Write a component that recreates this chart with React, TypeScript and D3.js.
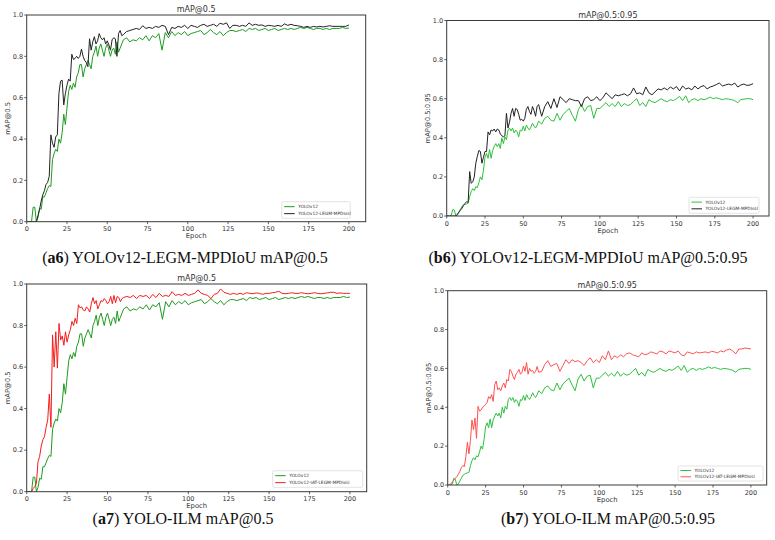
import React from "react";
import * as d3 from "d3";

const EPOCHS = [
  0, 1, 2, 3, 4, 5, 6, 7, 8, 9, 10, 11, 12, 13, 14, 15, 16, 17, 18, 19, 20, 21, 22, 23, 24, 25, 26, 27, 28, 29,
  30, 31, 32, 33, 34, 35, 36, 37, 38, 39, 40, 41, 42, 43, 44, 45, 46, 47, 48, 49, 50, 51, 52, 53, 54, 55, 56, 57, 58, 59, 60,
  62, 64, 66, 68, 70, 72, 74, 76, 78, 80, 82, 84, 86, 88, 90, 92, 94, 96, 98, 100,
  102, 104, 106, 108, 110, 112, 114, 116, 118, 120, 122, 124, 126, 128, 130, 132, 134, 136, 138, 140,
  142, 144, 146, 148, 150, 152, 154, 156, 158, 160, 162, 164, 166, 168, 170, 172, 174, 176, 178, 180,
  182, 184, 186, 188, 190, 192, 194, 196, 198, 200,
];

const X_TICKS = [0, 25, 50, 75, 100, 125, 150, 175, 200];
const Y_TICKS = [0, 0.2, 0.4, 0.6, 0.8, 1.0];

// YOLOv12 mAP@0.5
const GREEN_50 = [
  0, 0, 0,
  0.0, 0.07, 0.07, 0.0, 0.02, 0.065, 0.06, 0.12, 0.12, 0.14,
  0.16, 0.175, 0.17, 0.3, 0.33, 0.35, 0.34, 0.4, 0.38, 0.43,
  0.52, 0.47, 0.55, 0.63, 0.66, 0.64, 0.67, 0.65, 0.7, 0.72,
  0.76, 0.76, 0.7, 0.74, 0.76, 0.78, 0.76, 0.74, 0.8, 0.82,
  0.85, 0.8, 0.84, 0.86, 0.83, 0.8, 0.84, 0.86, 0.83, 0.8,
  0.83, 0.84, 0.81, 0.87, 0.82, 0.84, 0.86, 0.88,
  0.89, 0.87, 0.88, 0.875, 0.89, 0.88, 0.9, 0.875, 0.9, 0.89,
  0.91, 0.83, 0.915, 0.89, 0.92, 0.9, 0.915, 0.905, 0.92, 0.9,
  0.91, 0.915, 0.92, 0.925, 0.905, 0.915, 0.93, 0.915, 0.905, 0.92,
  0.9, 0.915, 0.925, 0.925, 0.92, 0.925, 0.93, 0.92, 0.935, 0.93,
  0.935, 0.925, 0.93, 0.935, 0.925, 0.93, 0.935, 0.925, 0.93, 0.935,
  0.93, 0.935, 0.93, 0.935, 0.94, 0.935, 0.94, 0.935, 0.93, 0.935,
  0.935, 0.93, 0.935, 0.93, 0.935, 0.935, 0.935, 0.94, 0.935, 0.937,
];

// YOLOv12-LEGM-MPDIoU mAP@0.5
const BLACK_50 = [
  0, 0, 0,
  0, 0, 0, 0, 0.03, 0.06, 0.1, 0.13, 0.15, 0.18,
  0.19, 0.22, 0.42, 0.38, 0.36, 0.41, 0.42, 0.62, 0.68, 0.685,
  0.565, 0.62, 0.66, 0.69, 0.68, 0.81, 0.785, 0.79, 0.8, 0.79,
  0.8, 0.835, 0.8, 0.78, 0.77, 0.75, 0.885, 0.83, 0.87, 0.895,
  0.86, 0.875, 0.91, 0.89, 0.88, 0.89, 0.86, 0.875, 0.855, 0.83,
  0.88, 0.89, 0.885, 0.8, 0.91, 0.925, 0.9, 0.905,
  0.92, 0.925, 0.93, 0.935, 0.93, 0.948, 0.935, 0.94, 0.935, 0.945,
  0.94, 0.95, 0.945, 0.905, 0.94, 0.935, 0.945, 0.94, 0.95, 0.935,
  0.95, 0.945, 0.94, 0.95, 0.955, 0.945, 0.95, 0.955, 0.945, 0.96,
  0.955, 0.962, 0.935, 0.95, 0.95, 0.945, 0.95, 0.945, 0.962, 0.95,
  0.955, 0.95, 0.952, 0.945, 0.95, 0.948, 0.945, 0.95, 0.945, 0.957,
  0.95, 0.955, 0.95, 0.948, 0.945, 0.94, 0.945, 0.94, 0.945, 0.942,
  0.945, 0.942, 0.945, 0.948, 0.945, 0.945, 0.945, 0.945, 0.945, 0.952,
];

// YOLOv12-IAT-LEGM-MPDIoU mAP@0.5
const RED_50 = [
  0, 0, 0,
  0, 0.015, 0.025, 0.04, 0.145, 0.17, 0.22, 0.25, 0.265, 0.31,
  0.345, 0.47, 0.31, 0.755, 0.6, 0.77, 0.595, 0.81, 0.73, 0.75,
  0.705, 0.77, 0.72, 0.755, 0.78, 0.82, 0.8, 0.835, 0.81, 0.9,
  0.885, 0.89, 0.875, 0.87, 0.89, 0.88, 0.865, 0.905, 0.935, 0.905,
  0.92, 0.88, 0.9, 0.92, 0.915, 0.93, 0.92, 0.905, 0.915, 0.94,
  0.905, 0.945, 0.91, 0.94, 0.935, 0.915, 0.93, 0.935,
  0.94, 0.935, 0.945, 0.93, 0.945, 0.94, 0.945, 0.93, 0.95, 0.935,
  0.955, 0.94, 0.945, 0.94, 0.963, 0.945, 0.95, 0.945, 0.955, 0.945,
  0.95, 0.955, 0.972, 0.955, 0.95, 0.945, 0.93, 0.95, 0.955, 0.976,
  0.96, 0.955, 0.95, 0.955, 0.95, 0.955, 0.95, 0.958, 0.955, 0.953,
  0.957, 0.955, 0.95, 0.955, 0.955, 0.958, 0.96, 0.965, 0.955, 0.953,
  0.955, 0.958, 0.955, 0.955, 0.958, 0.955, 0.953, 0.955, 0.958, 0.955,
  0.953, 0.955, 0.957, 0.96, 0.96, 0.955, 0.957, 0.955, 0.955, 0.955,
];

// YOLOv12 mAP@0.5:0.95
const GREEN_95 = [
  0, 0, 0, 0.005, 0.034, 0.03, 0, 0.005, 0.02, 0.035,
  0.05, 0.055, 0.06, 0.062, 0.065, 0.1, 0.125, 0.14, 0.13, 0.15,
  0.145, 0.17, 0.2, 0.185, 0.235, 0.3, 0.32, 0.295, 0.34, 0.295,
  0.335, 0.355, 0.37, 0.355, 0.37, 0.345, 0.4, 0.37, 0.405, 0.39,
  0.44, 0.45, 0.435, 0.45, 0.425, 0.44, 0.43, 0.405, 0.44, 0.435,
  0.46, 0.435, 0.465, 0.45, 0.44, 0.455, 0.475, 0.46, 0.45, 0.465, 0.485,
  0.47, 0.5, 0.51, 0.49, 0.485, 0.525, 0.49, 0.52, 0.535, 0.55,
  0.515, 0.485, 0.545, 0.57, 0.535, 0.56, 0.565, 0.5, 0.55, 0.55,
  0.565, 0.58, 0.56, 0.575, 0.56, 0.585, 0.56, 0.575, 0.565, 0.57,
  0.586, 0.6, 0.565, 0.58, 0.56, 0.595, 0.585, 0.58, 0.59, 0.6,
  0.59, 0.585, 0.595, 0.59, 0.6, 0.612, 0.59, 0.615, 0.58, 0.595,
  0.6, 0.59, 0.6, 0.595, 0.6, 0.608, 0.6, 0.605, 0.6, 0.595,
  0.6, 0.598, 0.595, 0.59, 0.58, 0.595, 0.598, 0.6, 0.6, 0.595,
];

// YOLOv12-LEGM-MPDIoU mAP@0.5:0.95
const BLACK_95 = [
  0, 0, 0, 0, 0, 0, 0, 0.01, 0.02, 0.03,
  0.04, 0.055, 0.065, 0.073, 0.07, 0.227, 0.167, 0.175, 0.2, 0.27,
  0.305, 0.335, 0.33, 0.27, 0.3, 0.33, 0.33, 0.43, 0.415, 0.44,
  0.435, 0.445, 0.43, 0.445, 0.44, 0.42, 0.41, 0.405, 0.41, 0.525,
  0.45, 0.48, 0.525, 0.55, 0.51, 0.55, 0.545, 0.52, 0.49, 0.495,
  0.485, 0.5, 0.545, 0.56, 0.535, 0.52, 0.56, 0.54, 0.51, 0.56, 0.57,
  0.51, 0.56, 0.585, 0.55, 0.6, 0.555, 0.61, 0.595, 0.58, 0.6,
  0.595, 0.59, 0.59, 0.56, 0.6, 0.61, 0.59, 0.595, 0.61, 0.59,
  0.605, 0.63, 0.615, 0.6, 0.62, 0.615, 0.62, 0.625, 0.615, 0.625,
  0.655, 0.625, 0.63, 0.62, 0.66, 0.63, 0.62, 0.635, 0.65, 0.645,
  0.655, 0.645, 0.66, 0.65, 0.662, 0.64, 0.665, 0.65, 0.655, 0.645,
  0.665, 0.65, 0.662, 0.667, 0.65, 0.66, 0.665, 0.672, 0.68, 0.665,
  0.67, 0.675, 0.67, 0.68, 0.66, 0.67, 0.675, 0.668, 0.67, 0.677,
];

// YOLOv12-IAT-LEGM-MPDIoU mAP@0.5:0.95
const RED_95 = [
  0, 0, 0.005, 0.015, 0.025, 0.035, 0.043, 0.055, 0.07, 0.09,
  0.1, 0.095, 0.147, 0.22, 0.16, 0.23, 0.335, 0.285, 0.345, 0.24,
  0.405, 0.38, 0.385, 0.4, 0.405, 0.415, 0.425, 0.455, 0.445, 0.465,
  0.43, 0.517, 0.535, 0.49, 0.5, 0.485, 0.51, 0.525, 0.5, 0.543,
  0.535, 0.595, 0.585, 0.56, 0.543, 0.57, 0.58, 0.595, 0.57, 0.58,
  0.612, 0.585, 0.63, 0.57, 0.6, 0.585, 0.59, 0.575, 0.585, 0.61, 0.58,
  0.585, 0.62, 0.64, 0.61, 0.62, 0.625, 0.585, 0.615, 0.645, 0.625,
  0.645, 0.635, 0.64, 0.63, 0.615, 0.64, 0.655, 0.63, 0.645, 0.63,
  0.665, 0.645, 0.69, 0.645, 0.665, 0.655, 0.67, 0.66, 0.675, 0.68,
  0.67, 0.665, 0.66, 0.68, 0.67, 0.675, 0.685, 0.68, 0.675, 0.69,
  0.685, 0.675, 0.69, 0.685, 0.68, 0.69, 0.67, 0.665, 0.685, 0.68,
  0.675, 0.685, 0.68, 0.682, 0.685, 0.68, 0.688, 0.685, 0.68, 0.69,
  0.685, 0.695, 0.7, 0.69, 0.675, 0.7, 0.7, 0.705, 0.703, 0.7,
];

const NAME_BASE = "YOLOv12";
const NAME_LEGM = "YOLOv12-LEGM-MPDIoU";
const NAME_IAT = "YOLOv12-IAT-LEGM-MPDIoU";

const SANS = "'DejaVu Sans', sans-serif";
const SERIF = "'Liberation Serif', 'DejaVu Serif', serif";

type Series = { values: number[]; color: string; label: string };
type PanelProps = {
  id: string;
  l: number; r: number; t: number; b: number;
  title: string; ylabel: string;
  series: Series[];
  legend: { x: number; y: number; w: number; h: number };
};

function Panel({ id, l, r, t, b, title, ylabel, series, legend }: PanelProps) {
  const x = d3.scaleLinear().domain([0, 210.4]).range([l, r]);
  const y = d3.scaleLinear().domain([0, 1]).range([b, t]);
  const line = d3
    .line<number>()
    .x((_, i) => x(EPOCHS[i]))
    .y((d) => y(d));
  const axisColor = "#3a3a3a";
  const textColor = "#333";
  const tickFs = 6.5;
  return (
    <g>
      <defs>
        <clipPath id={id}>
          <rect x={l} y={t} width={r - l} height={b - t} />
        </clipPath>
      </defs>
      <rect x={l} y={t} width={r - l} height={b - t} fill="#fff" />
      <g clipPath={`url(#${id})`}>
        {series.map((s, i) => (
          <path key={i} d={line(s.values) || ""} fill="none" stroke={s.color} strokeWidth={1} strokeLinejoin="round" />
        ))}
      </g>
      <rect x={l} y={t} width={r - l} height={b - t} fill="none" stroke={axisColor} strokeWidth={1} />
      {X_TICKS.map((v) => (
        <g key={"x" + v}>
          <line x1={x(v)} x2={x(v)} y1={b} y2={b + 2.5} stroke={axisColor} strokeWidth={0.8} />
          <text x={x(v)} y={b + 9.5} fontSize={tickFs} fill={textColor} textAnchor="middle" fontFamily={SANS}>
            {v}
          </text>
        </g>
      ))}
      {Y_TICKS.map((v) => (
        <g key={"y" + v}>
          <line x1={l - 2.5} x2={l} y1={y(v)} y2={y(v)} stroke={axisColor} strokeWidth={0.8} />
          <text x={l - 3.5} y={y(v) + 2.3} fontSize={tickFs} fill={textColor} textAnchor="end" fontFamily={SANS}>
            {v.toFixed(1)}
          </text>
        </g>
      ))}
      <text x={(l + r) / 2} y={t - 3} fontSize={8} fill={textColor} textAnchor="middle" fontFamily={SANS}>
        {title}
      </text>
      <text x={(l + r) / 2} y={b + 16.5} fontSize={6.8} fill={textColor} textAnchor="middle" fontFamily={SANS}>
        Epoch
      </text>
      <text
        transform={`translate(${l - 17}, ${(t + b) / 2}) rotate(-90)`}
        fontSize={6.8}
        fill={textColor}
        textAnchor="middle"
        fontFamily={SANS}
      >
        {ylabel}
      </text>
      <rect x={legend.x} y={legend.y} width={legend.w} height={legend.h} fill="#fff" stroke="#d0d0d0" strokeWidth={0.6} rx={1.5} />
      {series.map((s, i) => {
        const ry = legend.y + legend.h * (i === 0 ? 0.3 : 0.72);
        return (
          <g key={"lg" + i}>
            <line x1={legend.x + 2.5} x2={legend.x + 13} y1={ry} y2={ry} stroke={s.color} strokeWidth={1} />
            <text x={legend.x + 16.5} y={ry + 1.6} fontSize={4.4} fill={textColor} fontFamily={SANS}>
              {s.label}
            </text>
          </g>
        );
      })}
    </g>
  );
}

function Caption({ cx, cy, tag, text }: { cx: number; cy: number; tag: string; text: string }) {
  return (
    <text x={cx} y={cy} fontSize={16} fill="#111" textAnchor="middle" fontFamily={SERIF}>
      (<tspan fontWeight="bold">{tag}</tspan>) {text}
    </text>
  );
}

export default function App() {
  const gA = "#1f9a1f";
  const gB = "#2fbf3c";
  return (
    <svg width={775} height={540} style={{ position: "absolute", left: 0, top: 0, background: "#fff" }}>
      <rect x={0} y={0} width={775} height={540} fill="#fff" />
      <Panel
        id="ca6"
        l={26.7} r={365.7} t={15} b={221.7}
        title="mAP@0.5" ylabel="mAP@0.5"
        series={[
          { values: GREEN_50, color: gA, label: NAME_BASE },
          { values: BLACK_50, color: "#222", label: NAME_LEGM },
        ]}
        legend={{ x: 281.7, y: 201.7, w: 68.5, h: 16.6 }}
      />
      <Panel
        id="cb6"
        l={446.7} r={769} t={20.5} b={216}
        title="mAP@0.5:0.95" ylabel="mAP@0.5:0.95"
        series={[
          { values: GREEN_95, color: gB, label: NAME_BASE },
          { values: BLACK_95, color: "#222", label: NAME_LEGM },
        ]}
        legend={{ x: 689, y: 197.3, w: 70, h: 16 }}
      />
      <Panel
        id="ca7"
        l={26.7} r={366.7} t={284} b={491.7}
        title="mAP@0.5" ylabel="mAP@0.5"
        series={[
          { values: GREEN_50, color: gA, label: NAME_BASE },
          { values: RED_50, color: "#f41c1c", label: NAME_IAT },
        ]}
        legend={{ x: 272.7, y: 470.7, w: 90, h: 16.6 }}
      />
      <Panel
        id="cb7"
        l={447.7} r={766.7} t={290.7} b={485}
        title="mAP@0.5:0.95" ylabel="mAP@0.5:0.95"
        series={[
          { values: GREEN_95, color: gB, label: NAME_BASE },
          { values: RED_95, color: "#ff5050", label: NAME_IAT },
        ]}
        legend={{ x: 678, y: 466, w: 85, h: 15 }}
      />
      <Caption cx={185} cy={263} tag="a6" text="YOLOv12-LEGM-MPDIoU mAP@0.5" />
      <Caption cx={588} cy={263} tag="b6" text="YOLOv12-LEGM-MPDIoU mAP@0.5:0.95" />
      <Caption cx={183} cy={524} tag="a7" text="YOLO-ILM mAP@0.5" />
      <Caption cx={608} cy={524} tag="b7" text="YOLO-ILM mAP@0.5:0.95" />
    </svg>
  );
}
